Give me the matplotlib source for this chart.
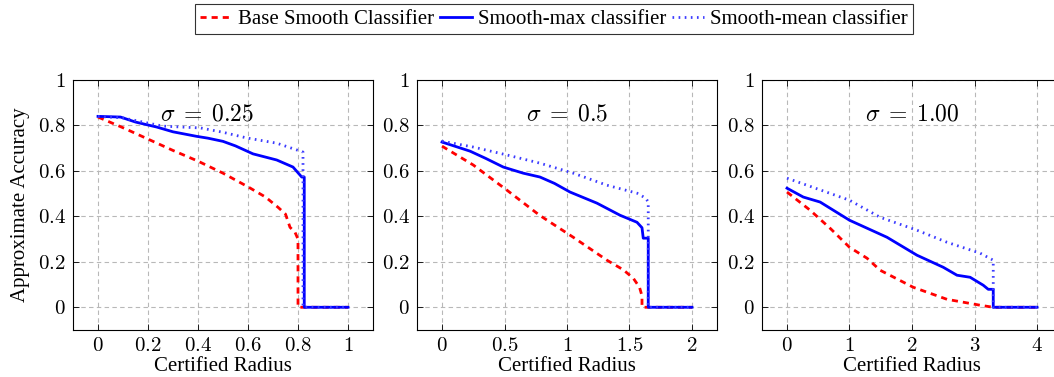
import matplotlib
matplotlib.use('Agg')
import matplotlib.pyplot as plt
from matplotlib.ticker import FuncFormatter

plt.rcParams['font.family'] = ['Liberation Serif', 'DejaVu Serif']
plt.rcParams['mathtext.fontset'] = 'cm'

# sigma = 0.25
r1_base = [0, 0.1, 0.2, 0.3, 0.4, 0.5, 0.6, 0.67, 0.72, 0.75, 0.768, 0.788, 0.80, 0.80, 1.0]
a1_base = [0.837, 0.79, 0.74, 0.69, 0.643, 0.59, 0.53, 0.485, 0.44, 0.41, 0.352, 0.33, 0.30, 0, 0]
r1_max = [0, 0.09, 0.15, 0.235, 0.3, 0.395, 0.44, 0.50, 0.55, 0.62, 0.715, 0.78, 0.815, 0.825, 0.825, 1.0]
a1_max = [0.84, 0.837, 0.815, 0.793, 0.772, 0.752, 0.744, 0.73, 0.71, 0.675, 0.648, 0.617, 0.573, 0.573, 0, 0]
r1_mean = [0, 0.1, 0.26, 0.41, 0.5, 0.595, 0.715, 0.82, 0.82, 1.0]
a1_mean = [0.84, 0.833, 0.797, 0.789, 0.77, 0.745, 0.722, 0.683, 0, 0]

# sigma = 0.5
r2_base = [0, 0.25, 0.52, 0.78, 1.05, 1.32, 1.45, 1.53, 1.58, 1.6, 1.6, 2.0]
a2_base = [0.709, 0.626, 0.515, 0.405, 0.308, 0.207, 0.165, 0.128, 0.088, 0.05, 0, 0]
r2_max = [0, 0.224, 0.35, 0.49, 0.65, 0.784, 0.9, 1.024, 1.24, 1.424, 1.56, 1.6, 1.61, 1.65, 1.65, 2.0]
a2_max = [0.727, 0.687, 0.655, 0.617, 0.59, 0.573, 0.545, 0.507, 0.458, 0.405, 0.374, 0.35, 0.304, 0.304, 0, 0]
r2_mean = [0, 0.25, 0.52, 0.784, 1.05, 1.32, 1.56, 1.63, 1.65, 1.65, 2.0]
a2_mean = [0.731, 0.705, 0.67, 0.634, 0.59, 0.537, 0.502, 0.48, 0.463, 0, 0]

# sigma = 1.00
r3_base = [0, 0.37, 0.7, 1.0, 1.28, 1.49, 2.02, 2.56, 3.09, 3.3, 4.0]
a3_base = [0.507, 0.427, 0.345, 0.264, 0.216, 0.163, 0.088, 0.035, 0.009, 0, 0]
r3_max = [0, 0.26, 0.53, 1.0, 1.6, 2.08, 2.5, 2.72, 2.93, 3.14, 3.22, 3.3, 3.3, 4.0]
a3_max = [0.524, 0.485, 0.463, 0.383, 0.308, 0.229, 0.176, 0.141, 0.132, 0.097, 0.079, 0.079, 0, 0]
r3_mean = [0, 1.0, 1.49, 2.08, 2.56, 3.09, 3.3, 3.3, 4.0]
a3_mean = [0.568, 0.471, 0.396, 0.339, 0.286, 0.238, 0.207, 0, 0]

titles = [r'$\sigma \;=\; 0.25$', r'$\sigma \;=\; 0.5$', r'$\sigma \;=\; 1.00$']
title_pos = [(0.436, 0.846), (1.0, 0.846), (2.0, 0.846)]
xticks = [[0, 0.2, 0.4, 0.6, 0.8, 1], [0, 0.5, 1, 1.5, 2], [0, 1, 2, 3, 4]]
yticks = [0, 0.2, 0.4, 0.6, 0.8, 1]
xmax = [1, 2, 4]

panels = [
    (r1_base, a1_base, r1_max, a1_max, r1_mean, a1_mean),
    (r2_base, a2_base, r2_max, a2_max, r2_mean, a2_mean),
    (r3_base, a3_base, r3_max, a3_max, r3_mean, a3_mean),
]

def fmt(v, pos):
    if abs(v - round(v)) < 1e-9:
        return r'$%d$' % round(v)
    return r'$%g$' % v

W, H = 1054, 377
fig = plt.figure(figsize=(W / 100, H / 100), dpi=100)
lefts = [73, 417, 762]

for i, (rb, ab, rm, am, rn, an) in enumerate(panels):
    ax = fig.add_axes([lefts[i] / W, 47 / H, 300 / W, 250 / H])
    ax.plot(rb, ab, color='#ff0000', lw=2, ls=(0, (2.2, 1.8)), label='Base Smooth Classifier')
    ax.plot(rm, am, color='#0000ff', lw=2, label='Smooth-max classifier')
    ax.plot(rn, an, color='#3b3bff', lw=2, ls=(0, (0.6, 1.6)), label='Smooth-mean classifier')
    ax.set_xlim(-0.1 * xmax[i], 1.1 * xmax[i])
    ax.set_ylim(-0.1, 1.0)
    ax.set_xticks(xticks[i])
    ax.set_yticks(yticks)
    ax.xaxis.set_major_formatter(FuncFormatter(fmt))
    ax.yaxis.set_major_formatter(FuncFormatter(fmt))
    ax.tick_params(direction='in', length=4, width=0.6, labelsize=15, top=True, right=True, pad=5)
    ax.grid(True, color='#b8b8b8', ls=(0, (4, 3)), lw=0.8)
    ax.set_axisbelow(True)
    for s in ax.spines.values():
        s.set_linewidth(0.8)
    ax.text(title_pos[i][0], title_pos[i][1], titles[i], ha='center', va='center', fontsize=17)
    ax.set_xlabel('Certified Radius', fontsize=15, labelpad=1)
    if i == 0:
        ax.set_ylabel('Approximate Accuracy', fontsize=15, labelpad=6)
        handles, labels = ax.get_legend_handles_labels()

leg = fig.legend(handles, labels, loc='center', bbox_to_anchor=(554 / W, 1 - 19 / H), ncol=3,
                 fontsize=15, frameon=True, fancybox=False, edgecolor='black', handlelength=1.5,
                 handletextpad=0.3, columnspacing=0.3, borderpad=0.25)
leg.get_frame().set_linewidth(0.8)

fig.savefig('out.png', dpi=100)
